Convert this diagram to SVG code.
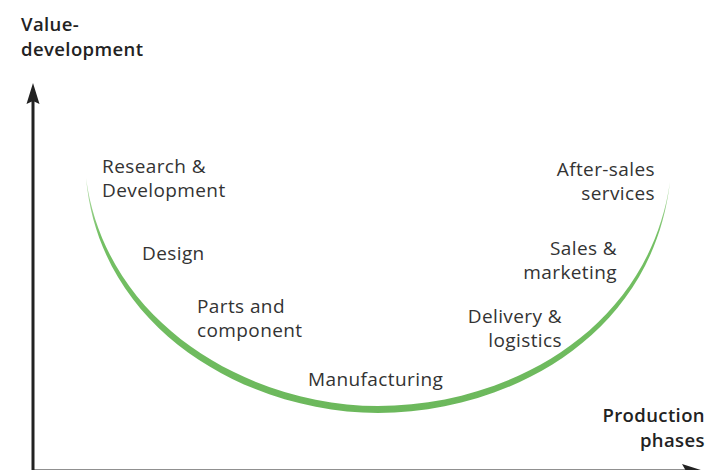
<svg xmlns="http://www.w3.org/2000/svg" width="707" height="470" viewBox="0 0 707 470">
<defs>
<style>
.t{font-family:"Open Sans","Liberation Sans",sans-serif;font-size:19px;letter-spacing:0.4px;fill:#333;}
.b{font-family:"Open Sans","Liberation Sans",sans-serif;font-size:18.5px;font-weight:600;letter-spacing:0.4px;fill:#222;}
.r{text-anchor:end;}
</style>
<linearGradient id="g" x1="0" y1="0" x2="0" y2="1">
<stop offset="0" stop-color="#b5ddaa"/>
<stop offset="0.25" stop-color="#74c064"/>
<stop offset="1" stop-color="#6cb85c"/>
</linearGradient>
</defs>
<rect width="707" height="470" fill="#fff"/>
<g id="curve">
<path d="M86,178 C100,332 250,413 378,413 C506,413 652,338 670,182 C648,332 506,406 378,406 C252,406 106,326 86,178 Z" fill="url(#g)"/>
</g>
<g id="connectors">
<line x1="33" y1="100" x2="33" y2="470" stroke="#222" stroke-width="3"/>
<path d="M33,83 L39.5,104 L33,101 L26.5,104 Z" fill="#222"/>
<line x1="33" y1="471" x2="690" y2="471" stroke="#222" stroke-width="3"/>
<path d="M704,471 L682,464 L686,471 L682,478 Z" fill="#222"/>
</g>
<g id="axis-y-label"><text class="b" x="21" y="31">Value-</text><text class="b" x="21" y="56">development</text></g>
<g id="axis-x-label"><text class="b r" x="705" y="422">Production</text><text class="b r" x="705" y="447">phases</text></g>
<g id="rd"><text class="t" x="102" y="173">Research &amp;</text><text class="t" x="102" y="197">Development</text></g>
<g id="design"><text class="t" x="142" y="260">Design</text></g>
<g id="parts"><text class="t" x="197" y="313">Parts and</text><text class="t" x="197" y="337">component</text></g>
<g id="manufacturing"><text class="t" x="308" y="386">Manufacturing</text></g>
<g id="delivery"><text class="t r" x="562" y="323">Delivery &amp;</text><text class="t r" x="562" y="347">logistics</text></g>
<g id="sales"><text class="t r" x="617" y="255">Sales &amp;</text><text class="t r" x="617" y="279">marketing</text></g>
<g id="aftersales"><text class="t r" x="655" y="176">After-sales</text><text class="t r" x="655" y="200">services</text></g>
</svg>
